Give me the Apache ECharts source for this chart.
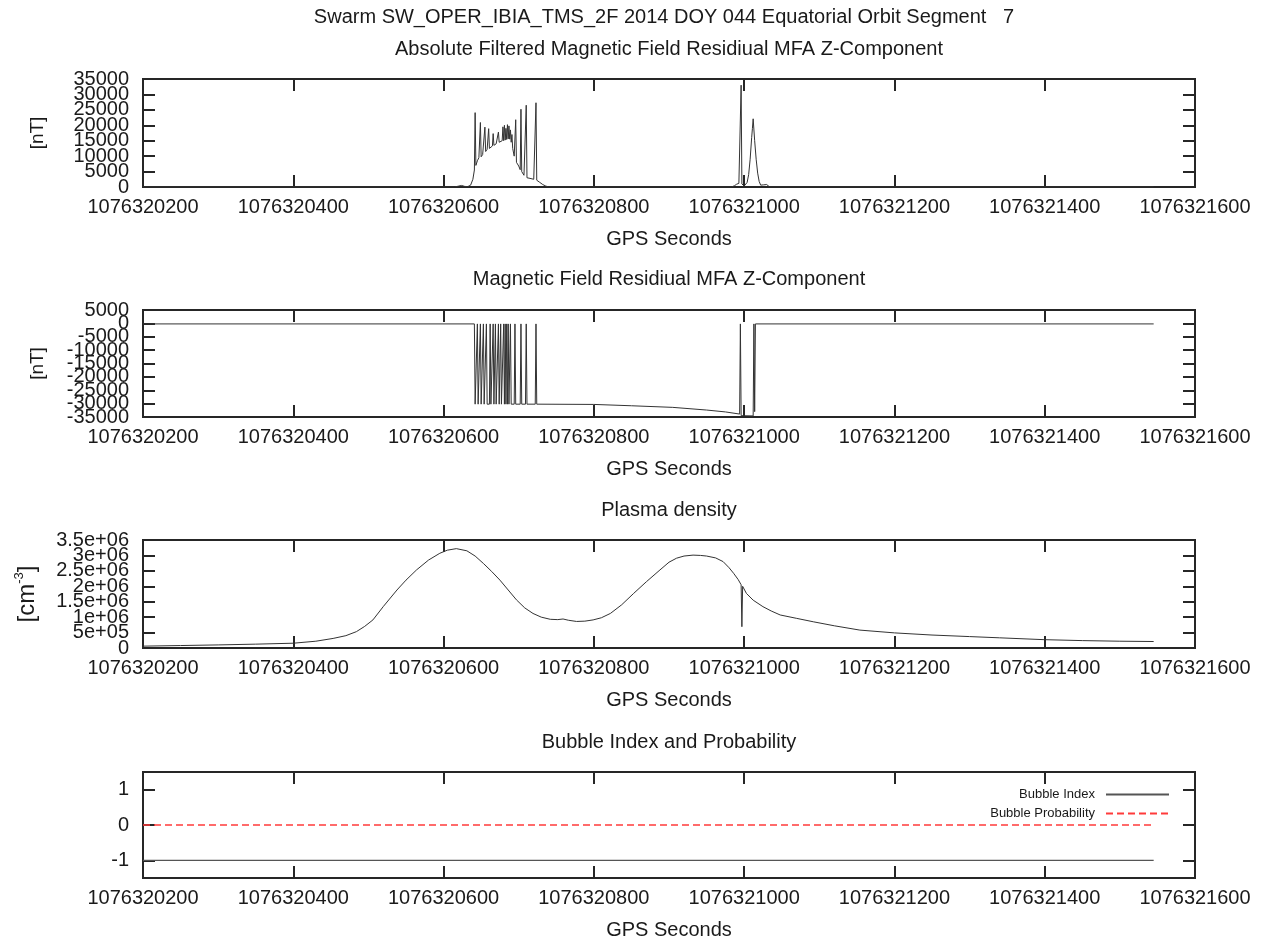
<!DOCTYPE html>
<html><head><meta charset="utf-8">
<script src="https://cdn.jsdelivr.net/npm/echarts@6/dist/echarts.min.js"></script>
<style>html,body{margin:0;padding:0;background:#fff}#c{width:1261px;height:941px}</style>
</head><body><div id="c"></div><script>
// ---- data (time as offset in seconds from T0) ----
const T0 = 1076320200;
const xMin = 1076320200, xMax = 1076321600, xStep = 200;

const titles = [
  "Swarm SW_OPER_IBIA_TMS_2F 2014 DOY 044 Equatorial Orbit Segment   7",
  "Absolute Filtered Magnetic Field Residiual MFA Z-Component",
  "Magnetic Field Residiual MFA Z-Component",
  "Plasma density",
  "Bubble Index and Probability"
];

// |filtered residual| [nT]
const absResidual = [
  [0,0],[415,0],[420,300],[424,500],[428,200],[432,100],[436,600],[439,2500],[441,5500],
  [442,24100],[443,7000],[445,8500],[447,9500],
  [449,20900],[450,9800],[452,10500],[454,11000],
  [455,19400],[456,11500],[458,12200],
  [460,18900],[461,12500],[463,13000],[465,13300],
  [466,17300],[467,13500],[470,14000],[472,14200],
  [473,17800],[474,14500],[476,14800],[478,15000],
  [479,19500],[480,15000],[481,20000],[482,15200],[483,19000],[484,15400],[485,20200],
  [486,15600],[487,19800],[488,15500],[489,18500],[490,14500],[491,17000],[492,12500],[494,10000],
  [496,21800],[497,8000],[500,6800],[502,5600],
  [503,25200],[504,5000],[507,3800],[509,3300],
  [510,26500],[511,3000],[515,2800],[520,2500],[522,2300],
  [523,27300],[524,2200],[528,1500],[532,800],[536,300],[540,0],
  [783,0],[787,400],[790,900],[793,1200],[795,1400],
  [796,33000],[797,1000],[800,300],[802,500],[804,1500],[806,4000],[808,9000],[810,16000],
  [811,19000],[812,22100],[813,18500],[814,15000],[816,9000],[818,4500],[820,1800],[822,600],
  [824,300],[826,700],[828,1100],[830,800],[832,300],[834,0],[1345,0]
];

// residual [nT]
const residual = [
  [0,-200],[441,-200],[442,-30200],[444,-30200],[445,-200],[446,-30200],[448,-30200],[449,-200],
  [450,-30200],[452,-30200],[453,-200],[454,-30200],[456,-30200],[457,-200],[458,-30200],
  [461,-30200],[462,-200],[463,-30200],[465,-30200],[466,-200],[467,-30200],[468,-30200],
  [469,-200],[470,-30200],[472,-30200],[473,-200],[474,-30200],[475,-30200],[476,-200],
  [477,-30200],[479,-30200],[480,-200],[481,-30200],[482,-200],[483,-30200],[484,-200],
  [485,-30200],[486,-200],[487,-30200],[488,-30200],[489,-200],[490,-30200],[494,-30200],
  [495,-200],[496,-30200],[502,-30200],[503,-200],[504,-30200],[509,-30200],[510,-200],
  [511,-30200],[522,-30200],[523,-200],[524,-30200],[600,-30300],[650,-30800],[705,-31400],
  [750,-32400],[775,-33100],[794,-33900],[795,-200],[796,-34500],[812,-34600],[813,-200],
  [814,-33000],[815,-200],[1345,-200]
];

// plasma density [cm^-3]
const density = [
  [0,6e4],[50,8e4],[100,1.0e5],[150,1.25e5],[200,1.55e5],[230,2.2e5],[253,3.1e5],[270,4.0e5],
  [284,5.3e5],[295,7.0e5],[306,9.1e5],[320,1.35e6],[338,1.88e6],[350,2.2e6],[364,2.53e6],
  [380,2.85e6],[395,3.07e6],[405,3.17e6],[417,3.22e6],[431,3.15e6],[442,2.98e6],[453,2.74e6],
  [464,2.48e6],[475,2.2e6],[486,1.88e6],[497,1.56e6],[508,1.3e6],[519,1.12e6],[530,1.0e6],
  [542,9.3e5],[552,9.2e5],[559,9.4e5],[566,9.0e5],[577,8.6e5],[588,8.7e5],[599,9.1e5],
  [610,9.8e5],[622,1.12e6],[637,1.4e6],[653,1.77e6],[670,2.15e6],[688,2.53e6],[700,2.78e6],
  [710,2.91e6],[720,2.98e6],[732,3.01e6],[742,3.0e6],[750,2.98e6],[762,2.92e6],[772,2.8e6],
  [780,2.6e6],[786,2.42e6],[792,2.22e6],[796,2.05e6],[797,6.9e5],[798,2.0e6],[803,1.77e6],
  [812,1.55e6],[825,1.34e6],[836,1.2e6],[848,1.07e6],[870,9.6e5],[892,8.5e5],[920,7.2e5],
  [954,5.8e5],[1000,4.9e5],[1050,4.2e5],[1100,3.7e5],[1140,3.3e5],[1199,2.7e5],[1250,2.4e5],
  [1300,2.2e5],[1345,2.1e5]
];

const bubbleIndex = [[0,-1],[1345,-1]];
const bubbleProb = [[0,0],[1345,0]];

// tick values / labels
const absTicks = [0,5000,10000,15000,20000,25000,30000,35000];
const resTicks = [-35000,-30000,-25000,-20000,-15000,-10000,-5000,0,5000];
const densTicks = [0,500000,1000000,1500000,2000000,2500000,3000000,3500000];
const densityTickLabels = {0:'0',500000:'5e+05',1000000:'1e+06',1500000:'1.5e+06',
  2000000:'2e+06',2500000:'2.5e+06',3000000:'3e+06',3500000:'3.5e+06'};
const bubbleTicks = [-1,0,1];

// ---- chart ----
const FONT = '"Liberation Sans", Arial, sans-serif';
const TXT = '#1a1a1a';
const AX = '#262626';
const gridsPos = [{top:79,height:108},{top:310,height:107},{top:540,height:108},{top:772,height:106}];
const yCfg = [
  {min:0,max:35000,ticks:absTicks,name:'[nT]',split:true},
  {min:-35000,max:5000,ticks:resTicks,name:'[nT]',split:true},
  {min:0,max:3500000,ticks:densTicks,name:'dens',split:true},
  {min:-1.5,max:1.5,ticks:bubbleTicks,name:'',split:false}
];
const toAbs = arr => arr.map(p => [T0 + p[0], p[1]]);

const grid = gridsPos.map(g => ({left:143,right:66,top:g.top,height:g.height,show:true,
  borderColor:AX,borderWidth:2,backgroundColor:'transparent'}));
const mkTick = (cv) => { const t = {show:true,inside:true,length:12,lineStyle:{color:AX,width:2}};
  if (cv) t.customValues = cv; return t; };
const noLine = {show:false,onZero:false};
const xAxis = [], yAxis = [];
gridsPos.forEach((g,i)=>{
  xAxis.push({type:'value',gridIndex:i,min:xMin,max:xMax,interval:xStep,position:'bottom',
    axisLine:noLine,splitLine:{show:false},axisTick:mkTick(),
    axisLabel:{fontSize:20,fontFamily:FONT,color:TXT,margin:10,showMinLabel:true,showMaxLabel:true,
      hideOverlap:false,formatter:v=>String(v)},
    name:'GPS Seconds',nameLocation:'middle',nameGap:42,
    nameTextStyle:{fontSize:20,fontFamily:FONT,color:TXT}});
  xAxis.push({type:'value',gridIndex:i,min:xMin,max:xMax,interval:xStep,position:'top',
    axisLine:noLine,splitLine:{show:false},axisTick:mkTick(),axisLabel:{show:false}});
  const c = yCfg[i];
  const fmt = i===2 ? (v => densityTickLabels[v] !== undefined ? densityTickLabels[v] : String(v)) : (v=>String(v));
  const lblBase = {fontSize:20,fontFamily:FONT,color:TXT,margin:14,hideOverlap:false,formatter:fmt,
    showMinLabel:true,showMaxLabel:true};
  // split labels into two non-overlapping sets (alternate ticks) on two stacked left axes
  const setA = c.split ? c.ticks.filter((v,k)=>k%2===0) : c.ticks;
  const setB = c.split ? c.ticks.filter((v,k)=>k%2===1) : [];
  const yl = {type:'value',gridIndex:i,min:c.min,max:c.max,position:'left',
    axisLine:noLine,splitLine:{show:false},axisTick:mkTick(c.ticks),
    axisLabel:Object.assign({customValues:setA},lblBase)};
  if (i===2) {
    yl.name = '{a|[cm}{s|-3}{a|]}';
    yl.nameLocation='middle'; yl.nameRotate=90; yl.nameGap=102;
    yl.nameTextStyle={fontFamily:FONT,color:TXT,rich:{a:{fontSize:24,fontFamily:FONT,color:TXT,lineHeight:28},
      s:{fontSize:13,fontFamily:FONT,color:TXT,verticalAlign:'top',lineHeight:28}}};
  } else if (i<2) {
    yl.name=c.name; yl.nameLocation='middle'; yl.nameRotate=90; yl.nameGap=96;
    yl.nameTextStyle={fontSize:19,fontFamily:FONT,color:TXT};
  }
  yAxis.push(yl);
  yAxis.push({type:'value',gridIndex:i,min:c.min,max:c.max,position:'left',show:setB.length>0,
    axisLine:noLine,splitLine:{show:false},axisTick:{show:false},
    axisLabel:Object.assign({customValues:setB.length?setB:[c.min]},lblBase)});
  yAxis.push({type:'value',gridIndex:i,min:c.min,max:c.max,position:'right',
    axisLine:noLine,splitLine:{show:false},axisTick:mkTick(c.ticks),
    axisLabel:{show:false,customValues:c.ticks}});
});

const lineBase = {type:'line',symbol:'none',showSymbol:false,animation:false,silent:true};
const series = [
  Object.assign({},lineBase,{name:'abs',xAxisIndex:0,yAxisIndex:0,data:toAbs(absResidual),
    itemStyle:{color:'#333'},lineStyle:{color:'#333',width:1}}),
  Object.assign({},lineBase,{name:'res',xAxisIndex:2,yAxisIndex:3,data:toAbs(residual),
    itemStyle:{color:'#333'},lineStyle:{color:'#333',width:1}}),
  Object.assign({},lineBase,{name:'dens',xAxisIndex:4,yAxisIndex:6,data:toAbs(density),
    itemStyle:{color:'#333'},lineStyle:{color:'#333',width:1}}),
  Object.assign({},lineBase,{name:'Bubble Index',xAxisIndex:6,yAxisIndex:9,data:toAbs(bubbleIndex),
    itemStyle:{color:'#555'},lineStyle:{color:'#555',width:1.3}}),
  Object.assign({},lineBase,{name:'Bubble Probability',xAxisIndex:6,yAxisIndex:9,data:toAbs(bubbleProb),
    itemStyle:{color:'#ff3b3b'},lineStyle:{color:'#ff3b3b',width:1.3,type:[7,4]}})
];

const titleY = [17,49,279,510,742];
const titleX = [664,669,669,669,669];
const graphic = titles.map((t,i)=>({type:'text',x:titleX[i],y:titleY[i],silent:true,
  style:{text:t,fontSize:20,fontFamily:FONT,fill:TXT,align:'center',verticalAlign:'middle'}}));

const chart = echarts.init(document.getElementById('c'),null,{renderer:'canvas'});
chart.setOption({
  animation:false,backgroundColor:'#fff',
  grid, xAxis, yAxis, series, graphic,
  legend:{data:['Bubble Index','Bubble Probability'],orient:'vertical',right:91,top:788,align:'right',
    padding:0,itemWidth:63,itemHeight:10,itemGap:6,
    itemStyle:{opacity:0,borderWidth:0},
    textStyle:{fontSize:13,fontFamily:FONT,color:TXT,padding:[0,6,0,0]},
    selectedMode:false}
});
</script></body></html>
